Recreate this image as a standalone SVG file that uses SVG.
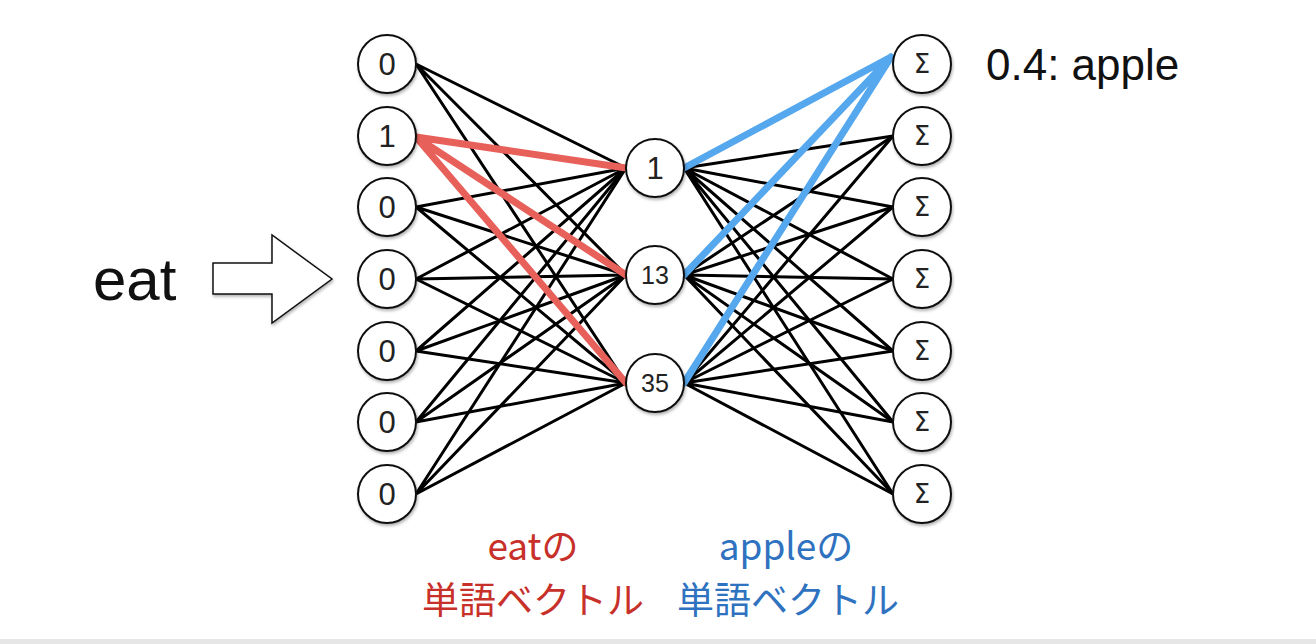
<svg xmlns="http://www.w3.org/2000/svg" width="1316" height="644" viewBox="0 0 1316 644">
<defs>
<filter id="sh" x="-20%" y="-20%" width="150%" height="150%">
<feDropShadow dx="1" dy="2" stdDeviation="1.5" flood-color="#000" flood-opacity="0.3"/>
</filter>
<style>
.nd{fill:#fff;stroke:#111;stroke-width:2}
.nt{font-family:"Liberation Sans",Arial,sans-serif;font-size:31px;fill:#222;text-anchor:middle}
.sg{font-family:"DejaVu Sans",sans-serif;font-size:26px;fill:#222;text-anchor:middle}
.bk{stroke:#000;stroke-width:3;fill:none}
.rd{stroke:#E8605A;stroke-width:7;fill:none;stroke-linecap:round}
.bl{stroke:#55A7EE;stroke-width:7;fill:none;stroke-linecap:round}
.lb{font-family:"Noto Sans CJK JP","Liberation Sans",sans-serif;font-size:37px;text-anchor:middle}
</style>
</defs>
<rect width="1316" height="644" fill="#fff"/>
<rect x="0" y="639" width="1316" height="5" fill="#e6e6e6"/>
<g id="connectors">
<g class="bk">
<path d="M416 64L626 168M416 64L626 275M416 64L626 383"/>
<path d="M416 207L626 168M416 207L626 275M416 207L626 383"/>
<path d="M416 279L626 168M416 279L626 275M416 279L626 383"/>
<path d="M416 351L626 168M416 351L626 275M416 351L626 383"/>
<path d="M416 422L626 168M416 422L626 275M416 422L626 383"/>
<path d="M416 494L626 168M416 494L626 275M416 494L626 383"/>
<path d="M684 168L893 136M684 168L893 207M684 168L893 279M684 168L893 351M684 168L893 422M684 168L893 494"/>
<path d="M684 275L893 136M684 275L893 207M684 275L893 279M684 275L893 351M684 275L893 422M684 275L893 494"/>
<path d="M684 383L893 136M684 383L893 207M684 383L893 279M684 383L893 351M684 383L893 422M684 383L893 494"/>
</g>
<path class="rd" d="M416 137L626 168M416 137L626 275M416 137L626 383"/>
<path class="bl" d="M684 168L891 57M684 275L891 57M684 383L891 57"/>
</g>
<g id="arrow">
<path d="M213 263H272V235L332 279L272 323V294H213Z" fill="#fff" stroke="#111" stroke-width="1.5" filter="url(#sh)"/>
</g>
<g id="in0"><circle class="nd" cx="387" cy="64" r="29" filter="url(#sh)"/><text class="nt" x="387" y="75">0</text></g>
<g id="in1"><circle class="nd" cx="387" cy="136" r="29" filter="url(#sh)"/><text class="nt" x="387" y="147">1</text></g>
<g id="in2"><circle class="nd" cx="387" cy="207" r="29" filter="url(#sh)"/><text class="nt" x="387" y="218">0</text></g>
<g id="in3"><circle class="nd" cx="387" cy="279" r="29" filter="url(#sh)"/><text class="nt" x="387" y="290">0</text></g>
<g id="in4"><circle class="nd" cx="387" cy="351" r="29" filter="url(#sh)"/><text class="nt" x="387" y="362">0</text></g>
<g id="in5"><circle class="nd" cx="387" cy="422" r="29" filter="url(#sh)"/><text class="nt" x="387" y="433">0</text></g>
<g id="in6"><circle class="nd" cx="387" cy="494" r="29" filter="url(#sh)"/><text class="nt" x="387" y="505">0</text></g>
<g id="h1"><circle class="nd" cx="655" cy="168" r="29" filter="url(#sh)"/><text class="nt" x="655" y="179">1</text></g>
<g id="h13"><circle class="nd" cx="655" cy="275" r="29" filter="url(#sh)"/><text class="nt" x="655" y="284" style="font-size:25px">13</text></g>
<g id="h35"><circle class="nd" cx="655" cy="383" r="29" filter="url(#sh)"/><text class="nt" x="655" y="392" style="font-size:25px">35</text></g>
<g id="out0"><circle class="nd" cx="922" cy="64" r="29" filter="url(#sh)"/><text class="sg" x="922" y="73">Σ</text></g>
<g id="out1"><circle class="nd" cx="922" cy="136" r="29" filter="url(#sh)"/><text class="sg" x="922" y="145">Σ</text></g>
<g id="out2"><circle class="nd" cx="922" cy="207" r="29" filter="url(#sh)"/><text class="sg" x="922" y="216">Σ</text></g>
<g id="out3"><circle class="nd" cx="922" cy="279" r="29" filter="url(#sh)"/><text class="sg" x="922" y="288">Σ</text></g>
<g id="out4"><circle class="nd" cx="922" cy="351" r="29" filter="url(#sh)"/><text class="sg" x="922" y="360">Σ</text></g>
<g id="out5"><circle class="nd" cx="922" cy="422" r="29" filter="url(#sh)"/><text class="sg" x="922" y="431">Σ</text></g>
<g id="out6"><circle class="nd" cx="922" cy="494" r="29" filter="url(#sh)"/><text class="sg" x="922" y="503">Σ</text></g>
<g id="labels">
<text x="93" y="300" style="font-family:'Liberation Sans',Arial,sans-serif;font-size:60px;fill:#111">eat</text>
<text x="986" y="80" style="font-family:'Liberation Sans',Arial,sans-serif;font-size:44px;fill:#111">0.4: apple</text>
<text class="lb" x="533" y="560" fill="#C8302A">eatの</text>
<text class="lb" x="533" y="614" fill="#C8302A">単語ベクトル</text>
<text class="lb" x="786" y="560" fill="#2E72C0">appleの</text>
<text class="lb" x="788" y="614" fill="#2E72C0">単語ベクトル</text>
</g>
</svg>
